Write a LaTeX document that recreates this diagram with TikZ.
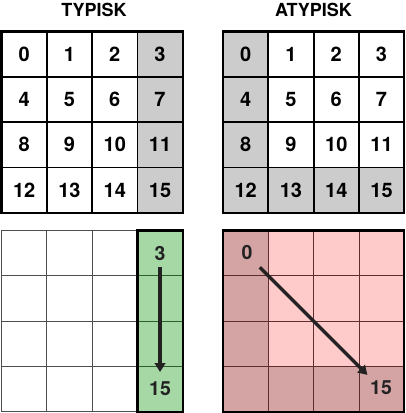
\documentclass[tikz,border=0pt]{standalone}
\usepackage{fontspec}
\setmainfont{TeX Gyre Heros}
\usetikzlibrary{arrows.meta}
\definecolor{cellgray}{HTML}{CCCCCC}
\definecolor{cellgreen}{HTML}{A6D8A6}
\definecolor{greenline}{HTML}{2E5E2E}
\definecolor{pinklight}{HTML}{FFCACA}
\definecolor{pinkdark}{HTML}{D4A4A4}
\definecolor{maroonline}{HTML}{5E2E2E}
\definecolor{inkdark}{HTML}{222222}
\begin{document}
\begin{tikzpicture}[x=1pt,y=-1pt,
  topcell/.style={draw=black, line width=1.8pt, minimum size=45.3pt, inner sep=0pt,
    font=\bfseries\fontsize{20}{20}\selectfont},
  wcell/.style={draw=inkdark!80, line width=0.8pt, minimum size=45.3pt, inner sep=0pt,
    text=inkdark, font=\bfseries\fontsize{19.5}{19.5}\selectfont},
  gcell/.style={wcell, fill=cellgreen, draw=greenline},
  pcell/.style={wcell, fill=pinklight, draw=maroonline},
  pdcell/.style={wcell, fill=pinkdark, draw=maroonline},
  outer/.style={draw=black, line width=2.4pt},
  title/.style={font=\bfseries\fontsize{18}{18}\selectfont},
  lbl/.style={text=inkdark, font=\bfseries\fontsize{19.5}{19.5}\selectfont},
  bigarrow/.style={draw=inkdark, line width=3.5pt, -{Triangle[length=9pt,width=10.5pt]}}
]
\useasboundingbox (0,0) rectangle (406,413);
% titles
\node[title] (t1) at (94,10) {TYPISK};
\node[title] (t2) at (313.5,10) {ATYPISK};
% top-left grid
\foreach \r in {0,...,3}{
  \foreach \c in {0,...,3}{
    \pgfmathtruncatemacro\n{4*\r+\c}
    \ifnum\c=3 \def\fc{cellgray}\else\def\fc{white}\fi
    \node[topcell, fill=\fc] (A\n) at ({1.5+22.65+45.3*\c},{31.5+22.65+45.3*\r}) {\n};
  }
}
\draw[outer] (1.5,31.5) rectangle (182.7,212.7);
% top-right grid
\foreach \r in {0,...,3}{
  \foreach \c in {0,...,3}{
    \pgfmathtruncatemacro\n{4*\r+\c}
    \def\fc{white}
    \ifnum\c=0 \def\fc{cellgray}\fi
    \ifnum\r=3 \def\fc{cellgray}\fi
    \node[topcell, fill=\fc] (B\n) at ({223+22.65+45.3*\c},{31.5+22.65+45.3*\r}) {\n};
  }
}
\draw[outer] (223,31.5) rectangle (404.2,212.7);
% bottom-left grid
\foreach \r in {0,...,3}{
  \foreach \c in {0,...,2}{
    \pgfmathtruncatemacro\n{4*\r+\c}
    \node[wcell] (C\n) at ({1.5+22.65+45.3*\c},{230.5+22.65+45.3*\r}) {};
  }
}
\node[gcell] (C3) at ({1.5+22.65+45.3*3},{230.5+22.65}) {3};
\node[gcell] (C7) at ({1.5+22.65+45.3*3},{230.5+22.65+45.3}) {};
\node[gcell] (C11) at ({1.5+22.65+45.3*3},{230.5+22.65+45.3*2}) {};
\node[gcell] (C15) at ({1.5+22.65+45.3*3},{230.5+22.65+45.3*3}) {15};
\draw[outer] (137.4,230.5) rectangle (182.7,411.7);
\draw[bigarrow, shorten <=14pt, shorten >=17pt] (C3.center) -- (C15.center);
% bottom-right grid
\foreach \r in {0,...,3}{
  \foreach \c in {0,...,3}{
    \pgfmathtruncatemacro\n{4*\r+\c}
    \def\st{pcell}
    \ifnum\c=0 \def\st{pdcell}\fi
    \ifnum\r=3 \def\st{pdcell}\fi
    \node[\st] (D\n) at ({223+22.65+45.3*\c},{230.5+22.65+45.3*\r}) {};
  }
}
\draw[outer] (223,230.5) rectangle (404.2,411.7);
\node[lbl] (L0) at (247,253) {0};
\node[lbl] (L15) at (381,388) {15};
\draw[bigarrow, shorten <=20pt, shorten >=20pt] (D0.center) -- (D15.center);
\end{tikzpicture}
\end{document}
